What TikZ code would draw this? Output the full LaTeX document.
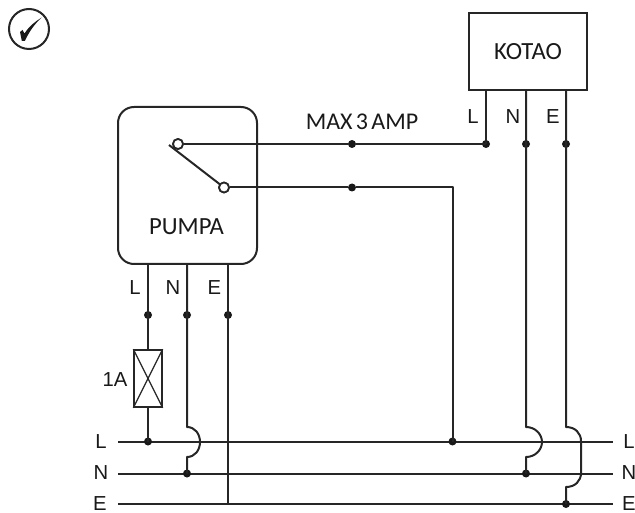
\documentclass[tikz,border=0pt]{standalone}
\usepackage{fontspec}
\setmainfont{Liberation Sans}
\newfontfamily\boxfont{Carlito}
\usetikzlibrary{calc}
\tikzset{
  wire/.style={line width=1.5pt,black!85,line join=round},
  boxline/.style={draw=black!85,line width=1.5pt},
  dotmark/.style={circle,fill=black!90,inner sep=0pt,minimum size=8pt*0.75},
  terminal/.style={circle,draw=black!85,fill=white,line width=1.3pt,inner sep=0pt,minimum size=10pt*0.75},
  thinlabel/.style={font=\fontsize{15.2}{16}\selectfont,text=black!90,inner sep=0pt},
  boxlabel/.style={font=\boxfont\fontsize{18.5}{20}\selectfont,text=black!90,inner sep=0pt}
}
\begin{document}
\begin{tikzpicture}[x=0.75pt,y=-0.75pt]
\useasboundingbox (0,0) rectangle (635,513);
% check badge
\node[circle,boxline,inner sep=0pt,minimum size=30pt] (badge) at (29,29) {};
\fill[black!90] (20,32) -- (22.5,30) -- (24.5,33.5) .. controls (29,26.5) and (35,21.5) .. (41.7,17.5)
  .. controls (34.5,24) and (29,32) .. (24.8,41) -- (21.8,41) -- cycle;
% boxes
\node[boxline,rounded corners=12pt,minimum width=104.25pt,minimum height=117.75pt,inner sep=0pt] (pumpa) at (187.5,185.5) {};
\node[boxline,minimum width=88.5pt,minimum height=57.75pt,inner sep=0pt,boxlabel] (kotao) at (528,51.5) {KOTAO};
\node[boxlabel] (pumpatext) at (186.5,227) {PUMPA};
\node[boxline,minimum width=20.5pt,minimum height=42.5pt,inner sep=0pt] (fuse) at (148,378.5) {};
\draw[line width=1pt,black!85] (fuse.north west) -- (fuse.south east) (fuse.north east) -- (fuse.south west);
% bus end points
\coordinate (Lw) at (118,441.5); \coordinate (Le) at (613,441.5);
\coordinate (Nw) at (118,473.5); \coordinate (Ne) at (613,473.5);
\coordinate (Ew) at (118,504); \coordinate (Ee) at (613,504);
\draw[wire] (Lw) -- (Le);
\draw[wire] (Nw) -- (Ne);
\draw[wire] (Ew) -- (Ee);
% junctions
\node[dotmark] (pL) at (148,315) {};
\node[dotmark] (pN) at (187,315) {};
\node[dotmark] (pE) at (228,315) {};
\node[dotmark] (busL1) at (148,441.5) {};
\node[dotmark] (busN1) at (187,473.5) {};
\coordinate (busE1) at (228,504);
\node[dotmark] (busL2) at (452.5,441.5) {};
\node[dotmark] (busN2) at (526,473.5) {};
\node[dotmark] (busE2) at (566,504) {};
\node[dotmark] (kL) at (486,144) {};
\node[dotmark] (kN) at (526,144) {};
\node[dotmark] (kE) at (566,144) {};
\node[dotmark] (m1) at (352,144) {};
\node[dotmark] (m2) at (352,187.5) {};
% switch
\coordinate (lever) at (169,145);
\coordinate (corner) at (452.5,187.5);
\node[terminal] (s1) at (178,144) {};
\node[terminal] (s2) at (224,187.5) {};
\draw[wire] (lever) -- (s2.center);
\draw[wire] (s1.east) -- (m1) -- (kL.center);
\draw[wire] (s2.east) -- (m2) -- (corner) -- (busL2.center);
\node[terminal] at (s1) {};
\node[terminal] at (s2) {};
% pumpa wires
\draw[wire] (pumpa.south -| pL) -- (pL.center) -- (fuse.north);
\draw[wire] (fuse.south) -- (busL1.center);
\draw[wire] (pumpa.south -| pN) -- (pN.center) -- (187,427)
  .. controls (195,427) and (200,434) .. (200,442)
  .. controls (200,450) and (195,457) .. (187,457) -- (busN1.center);
\draw[wire] (pumpa.south -| pE) -- (pE.center) -- (busE1);
% kotao wires
\draw[wire] (kotao.south -| kL) -- (kL.center);
\draw[wire] (kotao.south -| kN) -- (kN.center) -- (526,427)
  .. controls (535,427) and (542,434) .. (542,442)
  .. controls (542,450) and (535,457) .. (526,457) -- (busN2.center);
\draw[wire] (kotao.south -| kE) -- (kE.center) -- (566,427)
  .. controls (575,427) and (581,433) .. (581,441) -- (581,473)
  .. controls (581,481) and (575,487) .. (566,487) -- (busE2.center);
% labels
\node[boxlabel,font=\boxfont\fontsize{18}{20}\selectfont] (maxamp) at (362,122) {MAX\hspace{2.5pt}3\hspace{2.5pt}AMP};
\node[thinlabel] (tL1) at (135,288) {L};
\node[thinlabel] (tN1) at (173,288) {N};
\node[thinlabel] (tE1) at (214.5,288) {E};
\node[thinlabel] (t1A) at (115,380) {1A};
\node[thinlabel] (tL2) at (473,117) {L};
\node[thinlabel] (tN2) at (513,117) {N};
\node[thinlabel] (tE2) at (553,117) {E};
\node[thinlabel] (wL) at (101,442) {L};
\node[thinlabel] (wN) at (101,473) {N};
\node[thinlabel] (wE) at (100,504) {E};
\node[thinlabel] (eL) at (629,442) {L};
\node[thinlabel] (eN) at (629,473) {N};
\node[thinlabel] (eE) at (629,504) {E};
\end{tikzpicture}
\end{document}
